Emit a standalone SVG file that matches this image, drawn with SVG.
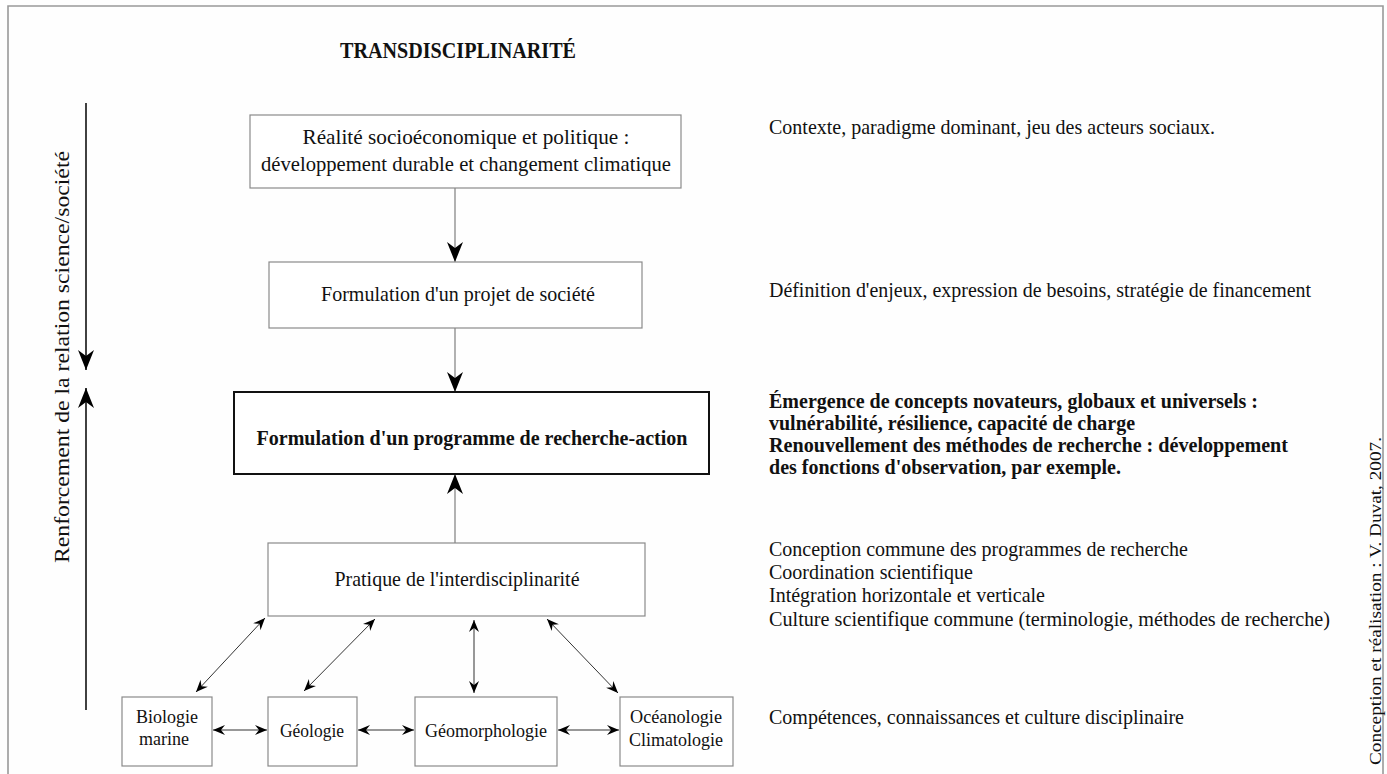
<svg xmlns="http://www.w3.org/2000/svg" width="1387" height="774" viewBox="0 0 1387 774">
<defs>
<style>
.t{font-family:"Liberation Serif","Times New Roman",serif;font-size:21px;fill:#111}
.bx{font-size:22px}
.sm{font-size:19px}
.b{font-weight:bold;font-size:20px}
.c{text-anchor:middle}
.box{fill:#fff;stroke:#8a8a8a;stroke-width:1.2}
.boxk{fill:#fff;stroke:#111;stroke-width:2}
.cn{stroke:#888;stroke-width:1.3;fill:none}
.cd{stroke:#333;stroke-width:1;fill:none}
.lg{stroke:#111;stroke-width:1.6;fill:none}
</style>
<marker id="big" markerUnits="userSpaceOnUse" markerWidth="24" markerHeight="20" viewBox="-22 -10 24 20" refX="0" refY="0" orient="auto">
<path d="M0,0 L-20,-8 L-14,0 L-20,8 Z" fill="#000"/>
</marker>
<marker id="sm" markerUnits="userSpaceOnUse" markerWidth="14" markerHeight="12" viewBox="-13 -6 14 12" refX="0" refY="0" orient="auto-start-reverse">
<path d="M0,0 L-12,-5 L-8,0 L-12,5 Z" fill="#000"/>
</marker>
</defs>
<rect x="0" y="0" width="1387" height="774" fill="#fefefe"/>
<path d="M8,774 V6 H1383 V774" fill="none" stroke="#999" stroke-width="1.6"/>

<text class="t b c" x="458" y="58" style="font-size:23px" textLength="236" lengthAdjust="spacingAndGlyphs">TRANSDISCIPLINARITÉ</text>

<g id="left-axis">
<line class="lg" x1="86" y1="103" x2="86" y2="370" marker-end="url(#big)"/>
<line class="lg" x1="86" y1="710" x2="86" y2="388" marker-end="url(#big)"/>
<text class="t c" transform="translate(69,357) rotate(-90)" style="font-size:20px" textLength="412" lengthAdjust="spacingAndGlyphs">Renforcement de la relation science/société</text>
</g>

<g id="connectors">
<line class="cn" x1="455" y1="188" x2="455" y2="262" marker-end="url(#big)"/>
<line class="cn" x1="455" y1="328" x2="455" y2="392" marker-end="url(#big)"/>
<line class="cn" x1="455" y1="543" x2="455" y2="474" marker-end="url(#big)"/>
<line class="cd" x1="196" y1="692" x2="265" y2="618" marker-start="url(#sm)" marker-end="url(#sm)"/>
<line class="cd" x1="304" y1="691" x2="375" y2="619" marker-start="url(#sm)" marker-end="url(#sm)"/>
<line class="cd" x1="474" y1="693" x2="474" y2="620" marker-start="url(#sm)" marker-end="url(#sm)"/>
<line class="cd" x1="618" y1="693" x2="547" y2="619" marker-start="url(#sm)" marker-end="url(#sm)"/>
<line class="cd" x1="213" y1="730" x2="267" y2="730" marker-start="url(#sm)" marker-end="url(#sm)"/>
<line class="cd" x1="358" y1="730" x2="414" y2="730" marker-start="url(#sm)" marker-end="url(#sm)"/>
<line class="cd" x1="558" y1="730" x2="619" y2="730" marker-start="url(#sm)" marker-end="url(#sm)"/>
</g>

<g id="n-realite">
<rect class="box" x="250" y="115" width="431" height="73"/>
<text class="t bx c" x="466" y="144" textLength="327" lengthAdjust="spacingAndGlyphs">Réalité socioéconomique et politique :</text>
<text class="t bx c" x="466" y="171" textLength="410" lengthAdjust="spacingAndGlyphs">développement durable et changement climatique</text>
</g>

<g id="n-projet">
<rect class="box" x="269" y="262" width="373" height="66"/>
<text class="t bx c" x="458" y="301" textLength="274" lengthAdjust="spacingAndGlyphs">Formulation d'un projet de société</text>
</g>

<g id="n-programme">
<rect class="boxk" x="234" y="392" width="475" height="82"/>
<text class="t b c" x="472" y="445" style="font-size:22px" textLength="431" lengthAdjust="spacingAndGlyphs">Formulation d'un programme de recherche-action</text>
</g>

<g id="n-pratique">
<rect class="box" x="268" y="543" width="377" height="73"/>
<text class="t bx c" x="457" y="586" textLength="245" lengthAdjust="spacingAndGlyphs">Pratique de l'interdisciplinarité</text>
</g>

<g id="n-biologie">
<rect class="box" x="122" y="697" width="90" height="69"/>
<text class="t sm c" x="167" y="723" textLength="62" lengthAdjust="spacingAndGlyphs">Biologie</text>
<text class="t sm c" x="164" y="745" textLength="50" lengthAdjust="spacingAndGlyphs">marine</text>
</g>

<g id="n-geologie">
<rect class="box" x="268" y="697" width="89" height="69"/>
<text class="t sm c" x="312" y="737" textLength="64" lengthAdjust="spacingAndGlyphs">Géologie</text>
</g>

<g id="n-geomorphologie">
<rect class="box" x="415" y="697" width="142" height="69"/>
<text class="t sm c" x="486" y="737" textLength="122" lengthAdjust="spacingAndGlyphs">Géomorphologie</text>
</g>

<g id="n-oceanologie">
<rect class="box" x="620" y="697" width="113" height="69"/>
<text class="t sm c" x="676" y="723" textLength="92" lengthAdjust="spacingAndGlyphs">Océanologie</text>
<text class="t sm c" x="676" y="746" textLength="94" lengthAdjust="spacingAndGlyphs">Climatologie</text>
</g>

<g id="annotations">
<text class="t" x="769" y="134" textLength="446" lengthAdjust="spacingAndGlyphs">Contexte, paradigme dominant, jeu des acteurs sociaux.</text>
<text class="t" x="769" y="297" textLength="542" lengthAdjust="spacingAndGlyphs">Définition d'enjeux, expression de besoins, stratégie de financement</text>
<text class="t b" x="769" y="408" textLength="489" lengthAdjust="spacingAndGlyphs">Émergence de concepts novateurs, globaux et universels :</text>
<text class="t b" x="769" y="430" textLength="366" lengthAdjust="spacingAndGlyphs">vulnérabilité, résilience, capacité de charge</text>
<text class="t b" x="769" y="452" textLength="519" lengthAdjust="spacingAndGlyphs">Renouvellement des méthodes de recherche : développement</text>
<text class="t b" x="769" y="474" textLength="352" lengthAdjust="spacingAndGlyphs">des fonctions d'observation, par exemple.</text>
<text class="t" x="769" y="556" textLength="419" lengthAdjust="spacingAndGlyphs">Conception commune des programmes de recherche</text>
<text class="t" x="769" y="579" textLength="204" lengthAdjust="spacingAndGlyphs">Coordination scientifique</text>
<text class="t" x="769" y="602" textLength="276" lengthAdjust="spacingAndGlyphs">Intégration horizontale et verticale</text>
<text class="t" x="769" y="626" textLength="561" lengthAdjust="spacingAndGlyphs">Culture scientifique commune (terminologie, méthodes de recherche)</text>
<text class="t" x="769" y="724" textLength="415" lengthAdjust="spacingAndGlyphs">Compétences, connaissances et culture disciplinaire</text>
<text class="t c" transform="translate(1381,601) rotate(-90)" style="font-size:17px" textLength="328" lengthAdjust="spacingAndGlyphs">Conception et réalisation : V. Duvat, 2007.</text>
</g>
</svg>
